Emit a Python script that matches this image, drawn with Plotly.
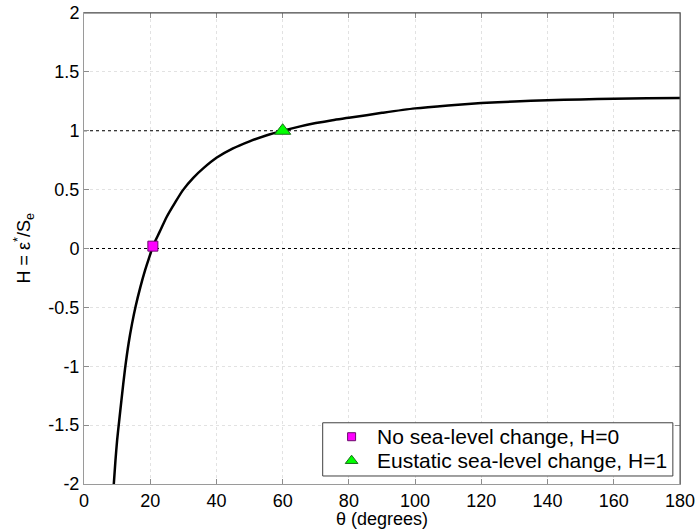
import plotly.graph_objects as go

theta = [9.0, 9.5, 10.0, 10.6, 11.3, 12.4, 13.5, 14.5, 15.6, 17.0, 18.5, 20.0, 20.8,
         23.0, 25.0, 27.5, 30.0, 33.0, 36.0, 40.0, 45.0, 50.0, 55.0, 60.0, 65.0, 70.0,
         75.0, 80.0, 90.0, 100.0, 110.0, 120.0, 130.0, 140.0, 150.0, 160.0, 170.0, 180.0]
H = [-2.0, -1.80, -1.63, -1.47, -1.29, -1.02, -0.80, -0.64, -0.49, -0.33, -0.18, -0.05, 0.02,
     0.15, 0.27, 0.39, 0.50, 0.60, 0.68, 0.77, 0.85, 0.91, 0.96, 1.0, 1.035, 1.065,
     1.09, 1.11, 1.152, 1.19, 1.215, 1.235, 1.249, 1.259, 1.266, 1.272, 1.276, 1.278]

no_change_theta = [20.8]
no_change_H = [0.02]
eustatic_theta = [60.0]
eustatic_H = [1.0]
ref_levels = [0, 1]

legend_labels = ["No sea-level change, H=0", "Eustatic sea-level change, H=1"]

x_ticks = [0, 20, 40, 60, 80, 100, 120, 140, 160, 180]
y_ticks = [-2, -1.5, -1, -0.5, 0, 0.5, 1, 1.5, 2]
y_tick_text = ["-2", "-1.5", "-1", "-0.5", "0", "0.5", "1", "1.5", "2"]

FONT = "Liberation Sans, Arial, sans-serif"
SQ = dict(symbol="square", color="#ff00ff", line=dict(color="#6a0a6a", width=1))
TRI = dict(symbol="triangle-up", color="#00ff00", line=dict(color="#1a6a1a", width=1))

fig = go.Figure()

for lv in ref_levels:
    fig.add_trace(go.Scatter(x=[0, 180], y=[lv, lv], mode="lines",
                             line=dict(color="black", width=1, dash="dot"),
                             showlegend=False, hoverinfo="skip"))

fig.add_trace(go.Scatter(x=theta, y=H, mode="lines",
                         line=dict(color="black", width=2.5, shape="spline", smoothing=0.8),
                         showlegend=False))

fig.add_trace(go.Scatter(x=no_change_theta, y=no_change_H, mode="markers",
                         name=legend_labels[0], showlegend=False,
                         marker=dict(size=10, **SQ)))
fig.add_trace(go.Scatter(x=eustatic_theta, y=eustatic_H, mode="markers",
                         name=legend_labels[1], showlegend=False,
                         marker=dict(size=14, **TRI)))

axis_common = dict(showline=True, linecolor="#9a9a9a", linewidth=1, mirror="ticks",
                   ticks="inside", ticklen=5, tickcolor="#8c8c8c", automargin=False,
                   showgrid=True, gridcolor="#e2e2e2", griddash="dot", gridwidth=1,
                   zeroline=False, tickfont=dict(family=FONT, size=18, color="black"))

fig.update_xaxes(range=[0, 180], tickvals=x_ticks, ticklabelstandoff=0, **axis_common)
fig.update_yaxes(range=[-2, 2], tickvals=y_ticks, ticktext=y_tick_text, ticklabelstandoff=0, **axis_common)

# darker top and right box edges
fig.add_shape(type="line", xref="paper", yref="paper", x0=0, x1=1, y0=1, y1=1,
              line=dict(color="#4d4d4d", width=1))
fig.add_shape(type="line", xref="paper", yref="paper", x0=1, x1=1, y0=0, y1=1,
              line=dict(color="#4d4d4d", width=1))

fig.add_annotation(text="θ (degrees)", xref="paper", yref="paper", x=0.5, y=0,
                   yshift=-35, xanchor="center", yanchor="middle", showarrow=False,
                   font=dict(family=FONT, size=18, color="black"))
fig.add_annotation(text="H = ε<sup>*</sup>/S<sub>e</sub>", xref="paper", yref="paper",
                   x=0, y=0.5, xshift=-60, textangle=-90, xanchor="center", yanchor="middle",
                   showarrow=False, font=dict(family=FONT, size=18, color="black"))

# manual legend (MATLAB-style compact box) drawn on an invisible overlay axis (0..1 = plot area)
leg_x0, leg_x1, leg_y0, leg_y1 = 0.4005, 0.988, 0.017, 0.130
fig.add_trace(go.Scatter(x=[leg_x0, leg_x1, leg_x1, leg_x0, leg_x0],
                         y=[leg_y0, leg_y0, leg_y1, leg_y1, leg_y0],
                         xaxis="x2", yaxis="y2", mode="lines", fill="toself",
                         fillcolor="white", line=dict(color="#404040", width=1),
                         showlegend=False, hoverinfo="skip"))
row_y = [0.1004, 0.0495]
sym_x = 0.449
text_x = 0.488
fig.add_trace(go.Scatter(x=[sym_x], y=[row_y[0]], xaxis="x2", yaxis="y2", mode="markers",
                         marker=dict(size=8, **SQ), showlegend=False, hoverinfo="skip"))
fig.add_trace(go.Scatter(x=[sym_x], y=[row_y[1]], xaxis="x2", yaxis="y2", mode="markers",
                         marker=dict(size=11, **TRI), showlegend=False, hoverinfo="skip"))
for lab, ry in zip(legend_labels, row_y):
    fig.add_annotation(text=lab, xref="paper", yref="paper", x=text_x, y=ry,
                       xanchor="left", yanchor="middle", showarrow=False,
                       font=dict(family=FONT, size=21, color="black"))

fig.update_layout(
    width=696, height=531,
    margin=dict(l=84, r=16, t=13, b=47),
    plot_bgcolor="white", paper_bgcolor="white",
    font=dict(family=FONT, size=18, color="black"),
    showlegend=False,
    xaxis2=dict(range=[0, 1], overlaying="x", visible=False, fixedrange=True),
    yaxis2=dict(range=[0, 1], overlaying="y", visible=False, fixedrange=True),
)

fig.write_html("out.html")
